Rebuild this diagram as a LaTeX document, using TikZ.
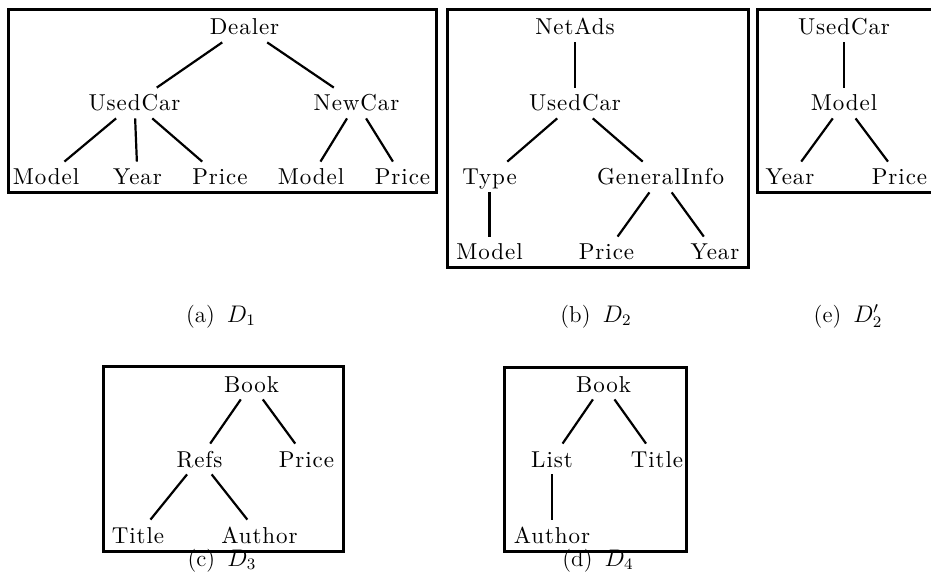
\documentclass[tikz,border=0pt]{standalone}
\usepackage{fontspec}
% Latin Modern, opened by file name so that letter spacing can be added
\newfontfamily\treefont{lmroman10-regular}[Extension=.otf, LetterSpace=4]
\begin{document}
\begin{tikzpicture}[x=0.5pt,y=-0.5pt,
  tn/.style={font=\treefont\fontsize{11.5}{13}\selectfont,
    text height=8pt, text depth=0pt, inner xsep=2pt, inner ysep=3.5pt, anchor=base},
  ed/.style={line width=1.1pt},
  bx/.style={line width=1.5pt},
  capt/.style={font=\fontsize{11.5}{13}\selectfont, anchor=base, inner sep=0pt}]
\useasboundingbox (0,0) rectangle (931,577);

% ---------- D1 ----------
\draw[bx] (8,10) rectangle (436,193);
\node[tn] (a0) at (244.5,35) {Dealer};
\node[tn] (a1) at (134.5,111) {UsedCar};
\node[tn] (a2) at (356.5,111) {NewCar};
\node[tn] (a3) at (46,185) {Model};
\node[tn] (a4) at (137.5,185) {Year};
\node[tn] (a5) at (220,185) {Price};
\node[tn] (a6) at (311,185) {Model};
\node[tn] (a7) at (402.5,185) {Price};
\draw[ed] (a0) -- (a1);
\draw[ed] (a0) -- (a2);
\draw[ed] (a1) -- (a3);
\draw[ed] (a1) -- (a4);
\draw[ed] (a1) -- (a5);
\draw[ed] (a2) -- (a6);
\draw[ed] (a2) -- (a7);
\node[capt] (ca) at (221,322) {(a)\hspace{6pt}$D_1$};

% ---------- D2 ----------
\draw[bx] (447,10) rectangle (748,268);
\node[tn] (b0) at (575,35) {NetAds};
\node[tn] (b1) at (575,111) {UsedCar};
\node[tn] (b2) at (489.5,185) {Type};
\node[tn] (b3) at (660.5,185) {GeneralInfo};
\node[tn] (b4) at (489.5,260) {Model};
\node[tn] (b5) at (606.5,260) {Price};
\node[tn] (b6) at (715,260) {Year};
\draw[ed] (b0) -- (b1);
\draw[ed] (b1) -- (b2);
\draw[ed] (b1) -- (b3);
\draw[ed] (b2) -- (b4);
\draw[ed] (b3) -- (b5);
\draw[ed] (b3) -- (b6);
\node[capt] (cb) at (596,322) {(b)\hspace{6pt}$D_2$};

% ---------- D2' (runs off the right edge) ----------
\draw[bx] (932,10) -- (757,10) -- (757,193) -- (932,193);
\node[tn] (e0) at (844,35) {UsedCar};
\node[tn] (e1) at (844,111) {Model};
\node[tn] (e2) at (790,185) {Year};
\node[tn] (e3) at (899.5,185) {Price};
\draw[ed] (e0) -- (e1);
\draw[ed] (e1) -- (e2);
\draw[ed] (e1) -- (e3);
\node[capt] (ce) at (848,322) {(e)\hspace{6pt}$D_2'$};

% ---------- D3 ----------
\draw[bx] (103,366) rectangle (343,551);
\node[tn] (c0) at (251.5,392) {Book};
\node[tn] (c1) at (199.5,467) {Refs};
\node[tn] (c2) at (306.5,467) {Price};
\node[tn] (c3) at (138,543) {Title};
\node[tn] (c4) at (259.5,543) {Author};
\draw[ed] (c0) -- (c1);
\draw[ed] (c0) -- (c2);
\draw[ed] (c1) -- (c3);
\draw[ed] (c1) -- (c4);
\node[capt] (cc) at (222,566) {(c)\hspace{6pt}$D_3$};

% ---------- D4 ----------
\draw[bx] (504,367) rectangle (686,551);
\node[tn] (d0) at (603.5,392) {Book};
\node[tn] (d1) at (552,467) {List};
\node[tn] (d2) at (657,467) {Title};
\node[tn] (d3) at (552,543) {Author};
\draw[ed] (d0) -- (d1);
\draw[ed] (d0) -- (d2);
\draw[ed] (d1) -- (d3);
\node[capt] (cd) at (598,566) {(d)\hspace{6pt}$D_4$};
\end{tikzpicture}
\end{document}
